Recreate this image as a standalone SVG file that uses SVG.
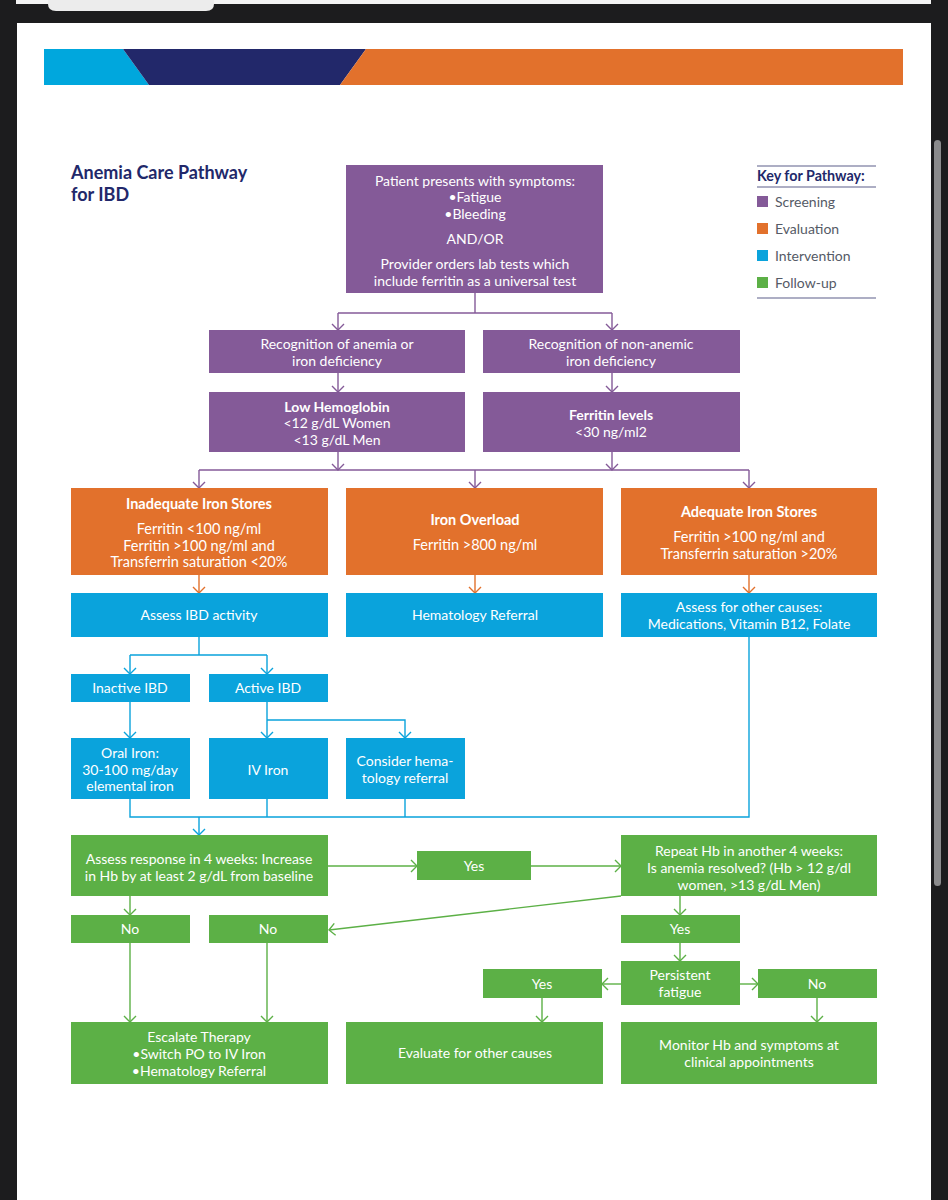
<svg xmlns="http://www.w3.org/2000/svg" width="948" height="1200" viewBox="0 0 948 1200">
<style>
.t{font-family:Lato,"Open Sans","Liberation Sans",sans-serif;font-size:14px;fill:#fff;text-anchor:middle}
.o{font-size:14.5px}
.b{font-weight:bold}
.k{font-family:Lato,"Open Sans","Liberation Sans",sans-serif;font-size:14px;fill:#555a66}
.pu{fill:#845a98}.or{fill:#e2712c}.bl{fill:#0aa3dc}.gr{fill:#5cb046}
.cp{stroke:#845a98}.co{stroke:#e2712c}.cb{stroke:#0aa3dc}.cg{stroke:#5cb046}
#connectors path{fill:none;stroke-width:1.4}
</style>
<defs>
<marker id="ap" markerUnits="userSpaceOnUse" markerWidth="14" markerHeight="14" viewBox="-8 -7 10 14" refX="0" refY="0" orient="auto"><path d="M-6,-6 L0,0 L-6,6" fill="none" stroke="#845a98" stroke-width="1.4"/></marker>
<marker id="ao" markerUnits="userSpaceOnUse" markerWidth="14" markerHeight="14" viewBox="-8 -7 10 14" refX="0" refY="0" orient="auto"><path d="M-6,-6 L0,0 L-6,6" fill="none" stroke="#e2712c" stroke-width="1.4"/></marker>
<marker id="ab" markerUnits="userSpaceOnUse" markerWidth="14" markerHeight="14" viewBox="-8 -7 10 14" refX="0" refY="0" orient="auto"><path d="M-6,-6 L0,0 L-6,6" fill="none" stroke="#0aa3dc" stroke-width="1.4"/></marker>
<marker id="ag" markerUnits="userSpaceOnUse" markerWidth="14" markerHeight="14" viewBox="-8 -7 10 14" refX="0" refY="0" orient="auto"><path d="M-6,-6 L0,0 L-6,6" fill="none" stroke="#5cb046" stroke-width="1.4"/></marker>
</defs>

<!-- frame -->
<rect x="0" y="0" width="948" height="1200" fill="#1c1c1e"/>
<rect x="16" y="0" width="915" height="4" fill="#f4f4f4"/>
<path d="M48,0 H214 V4 Q214,11 206,11 H56 Q48,11 48,4 Z" fill="#ececec"/>
<rect x="17" y="23" width="914" height="1177" fill="#ffffff"/>
<rect x="934" y="140" width="7" height="746" rx="3.5" fill="#8a8a8c"/>

<!-- header band -->
<g id="band">
<polygon points="44,49 123,49 149,85 44,85" fill="#00a7dd"/>
<polygon points="123,49 366,49 340,85 149,85" fill="#22286a"/>
<polygon points="366,49 903,49 903,85 340,85" fill="#e2712c"/>
</g>

<!-- title -->
<g id="title">
<text x="71" y="179" font-family="Lato,'Open Sans','Liberation Sans',sans-serif" font-size="18" font-weight="bold" fill="#22286a">Anemia Care Pathway</text>
<text x="71" y="201" font-family="Lato,'Open Sans','Liberation Sans',sans-serif" font-size="18" font-weight="bold" fill="#22286a">for IBD</text>
</g>

<!-- key -->
<g id="key">
<line x1="757" y1="166" x2="876" y2="166" stroke="#5c5f8a" stroke-width="1.2"/>
<text x="757" y="181" font-family="Lato,'Open Sans','Liberation Sans',sans-serif" font-size="14.3" font-weight="bold" fill="#22286a">Key for Pathway:</text>
<line x1="757" y1="187" x2="876" y2="187" stroke="#5c5f8a" stroke-width="1.2"/>
<rect x="757" y="196" width="11" height="11" class="pu"/><text x="775" y="207" class="k">Screening</text>
<rect x="757" y="223" width="11" height="11" class="or"/><text x="775" y="234" class="k">Evaluation</text>
<rect x="757" y="250" width="11" height="11" class="bl"/><text x="775" y="261" class="k">Intervention</text>
<rect x="757" y="277" width="11" height="11" class="gr"/><text x="775" y="288" class="k">Follow-up</text>
<line x1="757" y1="298" x2="876" y2="298" stroke="#5c5f8a" stroke-width="1.2"/>
</g>

<!-- connectors -->
<g id="connectors">
<path class="cp" d="M475,293 V313"/>
<path class="cp" d="M338,313 H612"/>
<path class="cp" d="M338,313 V330" marker-end="url(#ap)"/>
<path class="cp" d="M612,313 V330" marker-end="url(#ap)"/>
<path class="cp" d="M338,373 V392" marker-end="url(#ap)"/>
<path class="cp" d="M612,373 V392" marker-end="url(#ap)"/>
<path class="cp" d="M338,452 V470" marker-end="url(#ap)"/>
<path class="cp" d="M612,452 V470" marker-end="url(#ap)"/>
<path class="cp" d="M199,470 H749"/>
<path class="cp" d="M199,470 V488" marker-end="url(#ap)"/>
<path class="cp" d="M475,470 V488" marker-end="url(#ap)"/>
<path class="cp" d="M749,470 V488" marker-end="url(#ap)"/>
<path class="co" d="M199,575 V593" marker-end="url(#ao)"/>
<path class="co" d="M475,575 V593" marker-end="url(#ao)"/>
<path class="co" d="M749,575 V593" marker-end="url(#ao)"/>
<path class="cb" d="M199,637 V655 M130,655 H267"/>
<path class="cb" d="M130,655 V674" marker-end="url(#ab)"/>
<path class="cb" d="M267,655 V674" marker-end="url(#ab)"/>
<path class="cb" d="M130,702 V738" marker-end="url(#ab)"/>
<path class="cb" d="M267,702 V738" marker-end="url(#ab)"/>
<path class="cb" d="M267,720 H405 V738" marker-end="url(#ab)"/>
<path class="cb" d="M130,799 V817 H749 V637 M267,799 V817 M405,799 V817"/>
<path class="cb" d="M199,817 V835" marker-end="url(#ab)"/>
<path class="cg" d="M328,866 H417" marker-end="url(#ag)"/>
<path class="cg" d="M531,866 H621" marker-end="url(#ag)"/>
<path class="cg" d="M130,896 V915" marker-end="url(#ag)"/>
<path class="cg" d="M621,896 L329,930" marker-end="url(#ag)"/>
<path class="cg" d="M680,896 V915" marker-end="url(#ag)"/>
<path class="cg" d="M680,943 V961" marker-end="url(#ag)"/>
<path class="cg" d="M621,984 H602" marker-end="url(#ag)"/>
<path class="cg" d="M740,984 H758" marker-end="url(#ag)"/>
<path class="cg" d="M130,943 V1022" marker-end="url(#ag)"/>
<path class="cg" d="M267,943 V1022" marker-end="url(#ag)"/>
<path class="cg" d="M542,998 V1022" marker-end="url(#ag)"/>
<path class="cg" d="M817,998 V1022" marker-end="url(#ag)"/>
</g>

<!-- screening -->
<g id="n-start">
<rect x="346" y="165" width="257" height="128" class="pu"/>
<text class="t" x="475" y="186">Patient presents with symptoms:</text>
<text class="t" x="475" y="202">•Fatigue</text>
<text class="t" x="475" y="219">•Bleeding</text>
<text class="t" x="475" y="244">AND/OR</text>
<text class="t" x="475" y="269">Provider orders lab tests which</text>
<text class="t" x="475" y="286">include ferritin as a universal test</text>
</g>
<g id="n-recog-anemia">
<rect x="209" y="330" width="256" height="43" class="pu"/>
<text class="t" x="337" y="349">Recognition of anemia or</text>
<text class="t" x="337" y="366">iron deficiency</text>
</g>
<g id="n-recog-nonanemic">
<rect x="483" y="330" width="257" height="43" class="pu"/>
<text class="t" x="611" y="349">Recognition of non-anemic</text>
<text class="t" x="611" y="366">iron deficiency</text>
</g>
<g id="n-lowhb">
<rect x="209" y="392" width="256" height="60" class="pu"/>
<text class="t b" x="337" y="412">Low Hemoglobin</text>
<text class="t" x="337" y="428">&lt;12 g/dL Women</text>
<text class="t" x="337" y="445">&lt;13 g/dL Men</text>
</g>
<g id="n-ferritin">
<rect x="483" y="392" width="257" height="60" class="pu"/>
<text class="t b" x="611" y="420">Ferritin levels</text>
<text class="t" x="611" y="437">&lt;30 ng/ml2</text>
</g>

<!-- evaluation -->
<g id="n-inadequate">
<rect x="71" y="488" width="257" height="87" class="or"/>
<text class="t o b" x="199" y="509">Inadequate Iron Stores</text>
<text class="t o" x="199" y="534">Ferritin &lt;100 ng/ml</text>
<text class="t o" x="199" y="551">Ferritin &gt;100 ng/ml and</text>
<text class="t o" x="199" y="567">Transferrin saturation &lt;20%</text>
</g>
<g id="n-overload">
<rect x="346" y="488" width="257" height="87" class="or"/>
<text class="t o b" x="475" y="525">Iron Overload</text>
<text class="t o" x="475" y="550">Ferritin &gt;800 ng/ml</text>
</g>
<g id="n-adequate">
<rect x="621" y="488" width="256" height="87" class="or"/>
<text class="t o b" x="749" y="517">Adequate Iron Stores</text>
<text class="t o" x="749" y="542">Ferritin &gt;100 ng/ml and</text>
<text class="t o" x="749" y="559">Transferrin saturation &gt;20%</text>
</g>

<!-- intervention -->
<g id="n-assess-ibd">
<rect x="71" y="593" width="257" height="44" class="bl"/>
<text class="t" x="199" y="620">Assess IBD activity</text>
</g>
<g id="n-hem-ref">
<rect x="346" y="593" width="257" height="44" class="bl"/>
<text class="t" x="475" y="620">Hematology Referral</text>
</g>
<g id="n-other-causes">
<rect x="621" y="593" width="256" height="44" class="bl"/>
<text class="t" x="749" y="612">Assess for other causes:</text>
<text class="t" x="749" y="629">Medications, Vitamin B12, Folate</text>
</g>
<g id="n-inactive">
<rect x="71" y="674" width="119" height="28" class="bl"/>
<text class="t" x="130" y="693">Inactive IBD</text>
</g>
<g id="n-active">
<rect x="209" y="674" width="119" height="28" class="bl"/>
<text class="t" x="268" y="693">Active IBD</text>
</g>
<g id="n-oral">
<rect x="71" y="738" width="119" height="61" class="bl"/>
<text class="t" x="130" y="758">Oral Iron:</text>
<text class="t" x="130" y="775">30-100 mg/day</text>
<text class="t" x="130" y="791">elemental iron</text>
</g>
<g id="n-iv">
<rect x="209" y="738" width="119" height="61" class="bl"/>
<text class="t" x="268" y="775">IV Iron</text>
</g>
<g id="n-consider">
<rect x="346" y="738" width="119" height="61" class="bl"/>
<text class="t" x="405" y="766">Consider hema-</text>
<text class="t" x="405" y="783">tology referral</text>
</g>

<!-- follow-up -->
<g id="n-assess-response">
<rect x="71" y="835" width="257" height="61" class="gr"/>
<text class="t" x="199" y="864">Assess response in 4 weeks: Increase</text>
<text class="t" x="199" y="881">in Hb by at least 2 g/dL from baseline</text>
</g>
<g id="n-yes1">
<rect x="417" y="851" width="114" height="29" class="gr"/>
<text class="t" x="474" y="871">Yes</text>
</g>
<g id="n-repeat">
<rect x="621" y="835" width="256" height="61" class="gr"/>
<text class="t" x="749" y="856">Repeat Hb in another 4 weeks:</text>
<text class="t" x="749" y="873">Is anemia resolved? (Hb &gt; 12 g/dl</text>
<text class="t" x="749" y="890">women, &gt;13 g/dL Men)</text>
</g>
<g id="n-no1">
<rect x="71" y="915" width="119" height="28" class="gr"/>
<text class="t" x="130" y="934">No</text>
</g>
<g id="n-no2">
<rect x="209" y="915" width="119" height="28" class="gr"/>
<text class="t" x="268" y="934">No</text>
</g>
<g id="n-yes2">
<rect x="621" y="915" width="119" height="28" class="gr"/>
<text class="t" x="680" y="934">Yes</text>
</g>
<g id="n-fatigue">
<rect x="621" y="961" width="119" height="44" class="gr"/>
<text class="t" x="680" y="980">Persistent</text>
<text class="t" x="680" y="997">fatigue</text>
</g>
<g id="n-yes3">
<rect x="483" y="969" width="119" height="29" class="gr"/>
<text class="t" x="542" y="989">Yes</text>
</g>
<g id="n-no3">
<rect x="758" y="969" width="119" height="29" class="gr"/>
<text class="t" x="817" y="989">No</text>
</g>
<g id="n-escalate">
<rect x="71" y="1022" width="257" height="62" class="gr"/>
<text class="t" x="199" y="1042">Escalate Therapy</text>
<text class="t" x="199" y="1059">•Switch PO to IV Iron</text>
<text class="t" x="199" y="1076">•Hematology Referral</text>
</g>
<g id="n-evaluate">
<rect x="346" y="1022" width="257" height="62" class="gr"/>
<text class="t" x="475" y="1058">Evaluate for other causes</text>
</g>
<g id="n-monitor">
<rect x="621" y="1022" width="256" height="62" class="gr"/>
<text class="t" x="749" y="1050">Monitor Hb and symptoms at</text>
<text class="t" x="749" y="1067">clinical appointments</text>
</g>
</svg>
